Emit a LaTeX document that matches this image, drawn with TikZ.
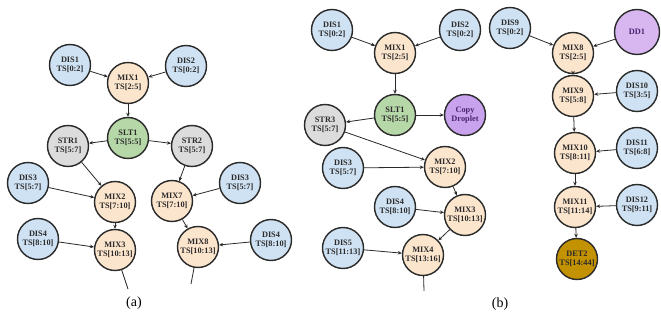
\documentclass[tikz,border=0pt]{standalone}
\usepackage{fontspec}
\setmainfont{Liberation Serif}
\usetikzlibrary{arrows.meta}
\definecolor{cdis}{HTML}{CFE2F3}
\definecolor{cmix}{HTML}{FCE5CD}
\definecolor{cslt}{HTML}{B6D7A8}
\definecolor{cstr}{HTML}{DCDCDC}
\definecolor{ccpy}{HTML}{C8A2EC}
\definecolor{cdd}{HTML}{D8B6F0}
\definecolor{cdet}{HTML}{C39200}
\definecolor{cline}{HTML}{2A2A2A}
\definecolor{ctext}{HTML}{2A2A2A}
\definecolor{cptext}{HTML}{4A2470}
\begin{document}
\begin{tikzpicture}[x=1pt,y=-1pt,
  op/.style={circle,draw=cline,line width=1.4pt,minimum size=41pt,inner sep=0pt,
    align=center,font=\fontsize{8.3}{9.4}\selectfont\bfseries,text=ctext},
  dis/.style={op,fill=cdis},
  mix/.style={op,fill=cmix},
  slt/.style={op,fill=cslt},
  str/.style={op,fill=cstr},
  cpy/.style={op,fill=ccpy,text=cptext},
  dd/.style={op,fill=cdd,text=cptext,minimum size=45pt},
  det/.style={op,fill=cdet},
  edge/.style={draw=cline,line width=0.8pt,-{Stealth[length=4pt,width=3.5pt]}},
  tail/.style={draw=cline,line width=0.8pt},
  lab/.style={font=\fontsize{14}{16}\selectfont}]
\useasboundingbox (0,0) rectangle (661,320);
\fill[white] (0,0) rectangle (661,320);
% ---------- panel (a)
\node[dis] (a1) at (70,65) {DIS1\\TS[0:2]};
\node[dis] (a2) at (186,66) {DIS2\\TS[0:2]};
\node[mix] (amix1) at (128,83) {MIX1\\TS[2:5]};
\node[slt] (aslt1) at (128,138) {SLT1\\TS[5:5]};
\node[str] (astr1) at (68,146) {STR1\\TS[5:7]};
\node[str] (astr2) at (192,146) {STR2\\TS[5:7]};
\node[dis] (a3l) at (28,183) {DIS3\\TS[5:7]};
\node[mix] (amix2) at (115,202) {MIX2\\TS[7:10]};
\node[mix] (amix7) at (172,201) {MIX7\\TS[7:10]};
\node[dis] (a3r) at (240,183) {DIS3\\TS[5:7]};
\node[dis] (a4l) at (38,239) {DIS4\\TS[8:10]};
\node[mix] (amix3) at (115,250) {MIX3\\TS[10:13]};
\node[mix] (amix8) at (198,247) {MIX8\\TS[10:13]};
\node[dis] (a4r) at (271,240) {DIS4\\TS[8:10]};
\coordinate (at3) at (128,289);
\coordinate (at8) at (191,284);
\draw[edge] (a1) -- (amix1);
\draw[edge] (a2) -- (amix1);
\draw[edge] (amix1) -- (aslt1);
\draw[edge] (aslt1) -- (astr1);
\draw[edge] (aslt1) -- (astr2);
\draw[edge] (astr1) -- (amix2);
\draw[edge] (a3l) -- (amix2);
\draw[edge] (amix2) -- (amix3);
\draw[edge] (a4l) -- (amix3);
\draw[edge] (astr2) -- (amix7);
\draw[edge] (a3r) -- (amix7);
\draw[edge] (amix7) -- (amix8);
\draw[edge] (a4r) -- (amix8);
\draw[tail] (amix3) -- (at3);
\draw[tail] (amix8) -- (at8);
\node[lab] (la) at (134,303) {(a)};
% ---------- panel (b)
\node[dis] (b1) at (332,30) {DIS1\\TS[0:2]};
\node[dis] (b2) at (460,30) {DIS2\\TS[0:2]};
\node[mix] (bmix1) at (395,53) {MIX1\\TS[2:5]};
\node[slt] (bslt1) at (395,115) {SLT1\\TS[5:5]};
\node[cpy] (bcpy) at (465,115) {Copy\\Droplet};
\node[str] (bstr3) at (325,125) {STR3\\TS[5:7]};
\node[mix] (bmix2) at (445,167) {MIX2\\TS[7:10]};
\node[dis] (b3) at (343,168) {DIS3\\TS[5:7]};
\node[dis] (b4) at (395,207) {DIS4\\TS[8:10]};
\node[mix] (bmix3) at (465,215) {MIX3\\TS[10:13]};
\node[dis] (b5) at (343,248) {DIS5\\TS[11:13]};
\node[mix] (bmix4) at (423,255) {MIX4\\TS[13:16]};
\coordinate (bt4) at (424,291);
\draw[edge] (b1) -- (bmix1);
\draw[edge] (b2) -- (bmix1);
\draw[edge] (bmix1) -- (bslt1);
\draw[edge] (bslt1) -- (bstr3);
\draw[edge] (bslt1) -- (bcpy);
\draw[edge] (bstr3) -- (bmix2);
\draw[edge] (b3) -- (bmix2);
\draw[edge] (bmix2) -- (bmix3);
\draw[edge] (b4) -- (bmix3);
\draw[edge] (bmix3) -- (bmix4);
\draw[edge] (b5) -- (bmix4);
\draw[tail] (bmix4) -- (bt4);
\node[dis] (b9) at (510,28) {DIS9\\TS[0:2]};
\node[dd] (bdd1) at (637,32) {DD1};
\node[mix] (bmix8) at (573,53) {MIX8\\TS[2:5]};
\node[mix] (bmix9) at (573,96) {MIX9\\TS[5:8]};
\node[dis] (b10) at (637,91) {DIS10\\TS[3:5]};
\node[mix] (bmix10) at (575,153) {MIX10\\TS[8:11]};
\node[dis] (b11) at (637,148) {DIS11\\TS[6:8]};
\node[mix] (bmix11) at (575,207) {MIX11\\TS[11:14]};
\node[dis] (b12) at (637,205) {DIS12\\TS[9:11]};
\node[det] (bdet2) at (577,259) {DET2\\TS[14:44]};
\draw[edge] (b9) -- (bmix8);
\draw[edge] (bdd1) -- (bmix8);
\draw[edge] (bmix8) -- (bmix9);
\draw[edge] (b10) -- (bmix9);
\draw[edge] (bmix9) -- (bmix10);
\draw[edge] (b11) -- (bmix10);
\draw[edge] (bmix10) -- (bmix11);
\draw[edge] (b12) -- (bmix11);
\draw[edge] (bmix11) -- (bdet2);
\node[lab] (lb) at (500,304) {(b)};
\end{tikzpicture}
\end{document}
